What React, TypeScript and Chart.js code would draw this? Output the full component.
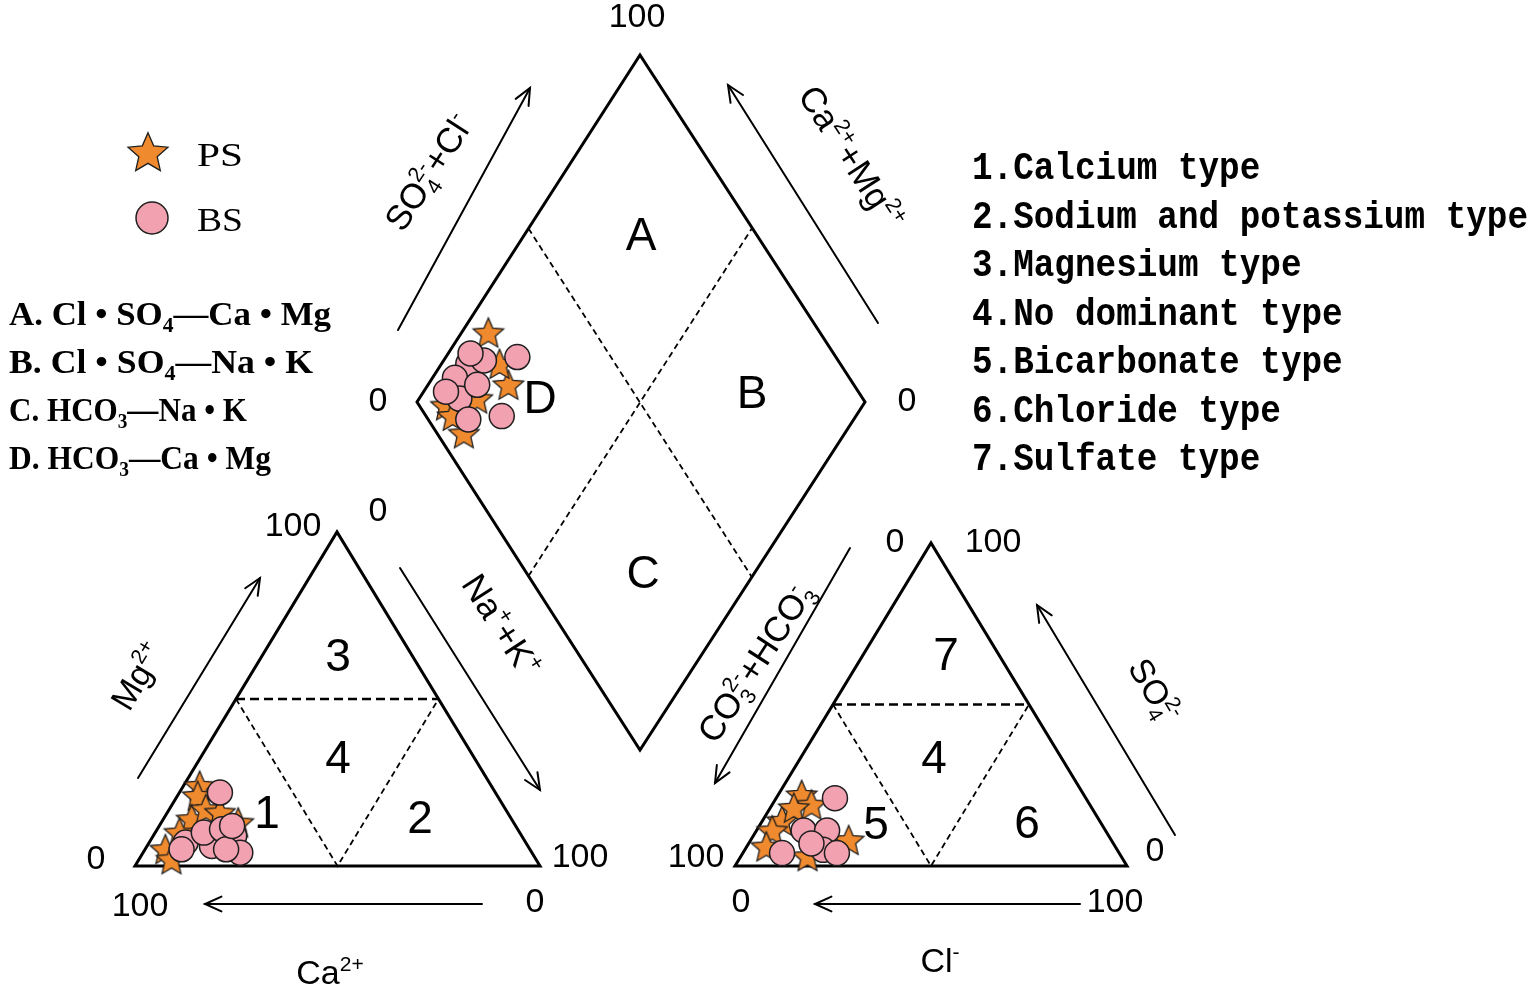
import React, { useEffect, useRef } from "react";
import { Chart, registerables } from "chart.js";

Chart.register(...registerables);

const W = 1535;
const H = 991;

// ---------------- data (meq %) ----------------
// Cation triangle: Ca2+, Mg2+, Na+ + K+
const psCa = [72, 74, 79, 74, 90, 90, 68, 71, 84];
const psMg = [24, 21, 14, 17, 5, 2, 13, 16, 10];
const psNaK = [4, 5, 7, 9, 5, 8, 19, 13, 6];
const bsCa = [68, 84, 78, 71, 72, 78, 73, 75, 86, 70];
const bsMg = [22, 7, 6, 9, 4, 10, 11, 5, 5, 12];
const bsNaK = [10, 9, 16, 20, 24, 12, 16, 20, 9, 18];

// Anion triangle: CO3 2- + HCO3-, SO4 2-, Cl-
const psHCO3 = [72, 71, 81, 85, 76, 67, 89, 80];
const psSO4 = [22, 19, 14, 11, 18, 8, 6, 3];
const psCl = [6, 10, 5, 4, 6, 25, 5, 17];
const bsHCO3 = [64, 77, 71, 86, 75, 72, 77];
const bsSO4 = [21, 11, 11, 4, 5, 4, 7];
const bsCl = [15, 12, 18, 10, 20, 24, 16];

// Diamond: SO4 2- + Cl-, Na+ + K+
const psDiaSO4Cl = [26, 23, 6, 6, 24, 14, 6];
const psDiaNaK = [6, 18, 7, 15, 13, 13, 10];
const bsDiaSO4Cl = [29, 17, 12, 10, 9, 17, 21, 19, 8, 16];
const bsDiaNaK = [16, 6, 5, 9, 14, 21, 9, 5, 5, 11];

const legendRight = [
  "1.Calcium type",
  "2.Sodium and potassium type",
  "3.Magnesium type",
  "4.No dominant type",
  "5.Bicarbonate type",
  "6.Chloride type",
  "7.Sulfate type",
];

// ---------------- layout ----------------
type P = [number, number];
const CAT_CA: P = [135, 866];
const CAT_NAK: P = [540, 866];
const CAT_MG: P = [337, 532];
const AN_HCO3: P = [735, 866];
const AN_CL: P = [1127, 866];
const AN_SO4: P = [931, 543];
const DIA_L: P = [417, 402];
const DIA_T: P = [640, 55];
const DIA_R: P = [865, 402];
const DIA_B: P = [640, 750];

const STAR_FILL = "#F08A2E";
const CIRCLE_FILL = "#F2A1B1";
const MARK_STROKE = "#1e1e1e";

const tern = (a: P, b: P, c: P, wa: number, wb: number, wc: number) => {
  const s = wa + wb + wc;
  return {
    x: (a[0] * wa + b[0] * wb + c[0] * wc) / s,
    y: (a[1] * wa + b[1] * wb + c[1] * wc) / s,
  };
};
const cat = (ca: number, mg: number, nak: number) => tern(CAT_CA, CAT_MG, CAT_NAK, ca, mg, nak);
const an = (hco3: number, so4: number, cl: number) => tern(AN_HCO3, AN_SO4, AN_CL, hco3, so4, cl);
const dia = (u: number, v: number) => ({
  x: DIA_L[0] + (u / 100) * (DIA_T[0] - DIA_L[0]) + (v / 100) * (DIA_B[0] - DIA_L[0]),
  y: DIA_L[1] + (u / 100) * (DIA_T[1] - DIA_L[1]) + (v / 100) * (DIA_B[1] - DIA_L[1]),
});
const pt = (p: P) => ({ x: p[0], y: p[1] });

function makeStar(r: number): HTMLCanvasElement {
  const pad = 2;
  const size = Math.ceil(2 * (r + pad));
  const c = document.createElement("canvas");
  c.width = size;
  c.height = size;
  const g = c.getContext("2d")!;
  const cx = size / 2;
  const cy = size / 2 + r * 0.08;
  const ri = r * 0.46;
  g.beginPath();
  for (let i = 0; i < 10; i++) {
    const rr = i % 2 ? ri : r;
    const a = -Math.PI / 2 + (i * Math.PI) / 5;
    g.lineTo(cx + rr * Math.cos(a), cy + rr * Math.sin(a));
  }
  g.closePath();
  g.fillStyle = STAR_FILL;
  g.fill();
  g.lineWidth = 1.3;
  g.strokeStyle = MARK_STROKE;
  g.lineJoin = "miter";
  g.stroke();
  return c;
}

type Seg = { t: string; sub?: string; sup?: string };

function segW(ctx: CanvasRenderingContext2D, s: Seg, size: number, fam: string, wt: string) {
  ctx.font = `${wt} ${size}px ${fam}`;
  const w = ctx.measureText(s.t).width;
  ctx.font = `${wt} ${size * 0.62}px ${fam}`;
  const ws = s.sub ? ctx.measureText(s.sub).width : 0;
  const wp = s.sup ? ctx.measureText(s.sup).width : 0;
  return w + Math.max(ws, wp);
}

function drawRich(
  ctx: CanvasRenderingContext2D,
  segs: Seg[],
  x: number,
  y: number,
  size: number,
  fam: string,
  wt: string,
  align: "left" | "center",
  fitWidth?: number
) {
  const total = segs.reduce((a, s) => a + segW(ctx, s, size, fam, wt), 0);
  ctx.save();
  ctx.translate(x, y);
  const sx = fitWidth ? fitWidth / total : 1;
  ctx.scale(sx, 1);
  ctx.textBaseline = "alphabetic";
  ctx.textAlign = "left";
  ctx.fillStyle = "#000";
  let cx = align === "center" ? -total / 2 : 0;
  for (const s of segs) {
    ctx.font = `${wt} ${size}px ${fam}`;
    ctx.fillText(s.t, cx, 0);
    cx += ctx.measureText(s.t).width;
    ctx.font = `${wt} ${size * 0.62}px ${fam}`;
    let extra = 0;
    if (s.sub) {
      ctx.fillText(s.sub, cx, size * 0.22);
      extra = Math.max(extra, ctx.measureText(s.sub).width);
    }
    if (s.sup) {
      ctx.fillText(s.sup, cx, -size * 0.4);
      extra = Math.max(extra, ctx.measureText(s.sup).width);
    }
    cx += extra;
  }
  ctx.restore();
}

const SANS = "'Liberation Sans', Arial, sans-serif";
const SERIF = "'Liberation Serif', 'Times New Roman', serif";
const MONO = "'Liberation Mono', 'Courier New', monospace";

// rotated axis labels: centre, angle (deg), segments
const rotLabels: { c: P; a: number; segs: Seg[]; size: number }[] = [
  { c: [428, 172], a: -57, size: 35, segs: [{ t: "SO", sub: "4", sup: "2-" }, { t: "+Cl", sup: "-" }] },
  { c: [852, 157], a: 57, size: 35, segs: [{ t: "Ca", sup: "2+" }, { t: "+Mg", sup: "2+" }] },
  { c: [502, 625], a: 57, size: 35, segs: [{ t: "Na", sup: "+" }, { t: "+K", sup: "+" }] },
  { c: [755, 662], a: -57, size: 35, segs: [{ t: "CO", sub: "3", sup: "2-" }, { t: "+HCO", sub: "3", sup: "-" }] },
  { c: [137, 676], a: -59, size: 34, segs: [{ t: "Mg", sup: "2+" }] },
  { c: [1155, 690], a: 59, size: 34, segs: [{ t: "SO", sub: "4", sup: "2-" }] },
  { c: [330, 972], a: 0, size: 34, segs: [{ t: "Ca", sup: "2+" }] },
  { c: [940, 960], a: 0, size: 34, segs: [{ t: "Cl", sup: "-" }] },
];

const numLabels: { c: P; t: string }[] = [
  { c: [637, 18], t: "100" },
  { c: [378, 402], t: "0" },
  { c: [907, 402], t: "0" },
  { c: [378, 512], t: "0" },
  { c: [293, 527], t: "100" },
  { c: [96, 860], t: "0" },
  { c: [140, 907], t: "100" },
  { c: [580, 858], t: "100" },
  { c: [535, 903], t: "0" },
  { c: [895, 543], t: "0" },
  { c: [993, 543], t: "100" },
  { c: [696, 858], t: "100" },
  { c: [741, 903], t: "0" },
  { c: [1155, 852], t: "0" },
  { c: [1115, 903], t: "100" },
];

const regionLabels: { c: P; t: string }[] = [
  { c: [641, 237], t: "A" },
  { c: [752, 395], t: "B" },
  { c: [643, 575], t: "C" },
  { c: [540, 400], t: "D" },
  { c: [338, 658], t: "3" },
  { c: [338, 760], t: "4" },
  { c: [267, 815], t: "1" },
  { c: [420, 820], t: "2" },
  { c: [946, 657], t: "7" },
  { c: [934, 760], t: "4" },
  { c: [876, 826], t: "5" },
  { c: [1027, 825], t: "6" },
];

const arrows: { a: P; b: P }[] = [
  { a: [398, 330], b: [530, 88] },
  { a: [878, 323], b: [728, 85] },
  { a: [400, 568], b: [540, 790] },
  { a: [850, 548], b: [715, 783] },
  { a: [138, 778], b: [260, 578] },
  { a: [1175, 835], b: [1037, 605] },
  { a: [482, 904], b: [205, 904] },
  { a: [1080, 904], b: [815, 904] },
];

const legendLeft: Seg[][] = [
  [{ t: "A. Cl • SO", sub: "4" }, { t: "—Ca • Mg" }],
  [{ t: "B. Cl • SO", sub: "4" }, { t: "—Na • K" }],
  [{ t: "C. HCO", sub: "3" }, { t: "—Na • K" }],
  [{ t: "D. HCO", sub: "3" }, { t: "—Ca • Mg" }],
];
const legendLeftFit = [322, 304, 238, 262];

export default function App() {
  const ref = useRef<HTMLCanvasElement>(null);

  useEffect(() => {
    const star = makeStar(16);
    const legendStar = makeStar(21);

    const psPts = [
      ...psCa.map((v, i) => cat(v, psMg[i], psNaK[i])),
      ...psHCO3.map((v, i) => an(v, psSO4[i], psCl[i])),
      ...psDiaSO4Cl.map((v, i) => dia(v, psDiaNaK[i])),
    ];
    const bsPts = [
      ...bsCa.map((v, i) => cat(v, bsMg[i], bsNaK[i])),
      ...bsHCO3.map((v, i) => an(v, bsSO4[i], bsCl[i])),
      ...bsDiaSO4Cl.map((v, i) => dia(v, bsDiaNaK[i])),
    ];

    const line = (data: { x: number; y: number }[], w: number, dash: number[] = []) => ({
      data,
      showLine: true,
      borderColor: "#000",
      borderWidth: w,
      borderDash: dash,
      pointRadius: 0,
      fill: false,
      tension: 0,
      order: 5,
      clip: false as const,
      borderJoinStyle: "miter" as const,
    });

    const cm1 = cat(50, 50, 0);
    const cm2 = cat(0, 50, 50);
    const cm3 = cat(50, 0, 50);
    const am1 = an(50, 50, 0);
    const am2 = an(0, 50, 50);
    const am3 = an(50, 0, 50);

    const datasets: any[] = [
      {
        label: "BS",
        data: bsPts,
        pointStyle: "circle",
        pointRadius: 12.5,
        backgroundColor: CIRCLE_FILL,
        borderColor: MARK_STROKE,
        borderWidth: 1.5,
        showLine: false,
        order: 0,
        clip: false,
      },
      {
        label: "PS",
        data: psPts,
        pointStyle: star,
        pointRadius: 16,
        showLine: false,
        order: 1,
        clip: false,
      },
      line([pt(CAT_CA), pt(CAT_MG), pt(CAT_NAK), pt(CAT_CA), pt(CAT_MG)], 3),
      line([pt(AN_HCO3), pt(AN_SO4), pt(AN_CL), pt(AN_HCO3), pt(AN_SO4)], 3),
      line([pt(DIA_L), pt(DIA_T), pt(DIA_R), pt(DIA_B), pt(DIA_L), pt(DIA_T)], 3),
      line([cm1, cm2], 2.5, [9, 5]),
      line([cm1, cm3, cm2], 1.8, [6, 4]),
      line([am1, am2], 2.5, [9, 5]),
      line([am1, am3, am2], 1.8, [6, 4]),
      line([dia(50, 0), dia(50, 100)], 1.8, [6, 4]),
      line([dia(0, 50), dia(100, 50)], 1.8, [6, 4]),
    ];

    const decor = {
      id: "decor",
      afterDatasetsDraw(chart: any) {
        const ctx: CanvasRenderingContext2D = chart.ctx;
        const xs = chart.scales.x;
        const ys = chart.scales.y;
        const X = (v: number) => xs.getPixelForValue(v);
        const Y = (v: number) => ys.getPixelForValue(v);
        ctx.save();

        // arrows
        ctx.strokeStyle = "#000";
        ctx.lineWidth = 2;
        ctx.lineCap = "round";
        for (const ar of arrows) {
          const ax = X(ar.a[0]), ay = Y(ar.a[1]), bx = X(ar.b[0]), by = Y(ar.b[1]);
          ctx.beginPath();
          ctx.moveTo(ax, ay);
          ctx.lineTo(bx, by);
          ctx.stroke();
          const ang = Math.atan2(by - ay, bx - ax);
          const L = 18, sp = 0.42;
          ctx.beginPath();
          ctx.moveTo(bx - L * Math.cos(ang - sp), by - L * Math.sin(ang - sp));
          ctx.lineTo(bx, by);
          ctx.lineTo(bx - L * Math.cos(ang + sp), by - L * Math.sin(ang + sp));
          ctx.stroke();
        }

        // numbers
        ctx.fillStyle = "#000";
        ctx.textAlign = "center";
        ctx.textBaseline = "middle";
        ctx.font = `34px ${SANS}`;
        for (const n of numLabels) ctx.fillText(n.t, X(n.c[0]), Y(n.c[1]));

        // region labels
        ctx.font = `46px ${SANS}`;
        for (const r of regionLabels) ctx.fillText(r.t, X(r.c[0]), Y(r.c[1]));

        // rotated labels
        for (const l of rotLabels) {
          ctx.save();
          ctx.translate(X(l.c[0]), Y(l.c[1]));
          ctx.rotate((l.a * Math.PI) / 180);
          drawRich(ctx, l.segs, 0, l.size * 0.36, l.size, SANS, "normal", "center");
          ctx.restore();
        }

        // legend markers
        ctx.drawImage(legendStar, X(148) - legendStar.width / 2, Y(152) - legendStar.height / 2);
        ctx.beginPath();
        ctx.arc(X(152), Y(218), 16, 0, Math.PI * 2);
        ctx.fillStyle = CIRCLE_FILL;
        ctx.fill();
        ctx.lineWidth = 1.5;
        ctx.strokeStyle = MARK_STROKE;
        ctx.stroke();
        drawRich(ctx, [{ t: "PS" }], X(197), Y(166), 33, SERIF, "normal", "left", 46);
        drawRich(ctx, [{ t: "BS" }], X(197), Y(231), 33, SERIF, "normal", "left", 46);

        // left legend
        legendLeft.forEach((segs, i) => {
          drawRich(ctx, segs, X(9), Y(325 + i * 48), 33, SERIF, "bold", "left", legendLeftFit[i]);
        });

        // right legend (monospace, fitted to widths)
        ctx.font = `bold 38px ${MONO}`;
        const refW = ctx.measureText(legendRight[1]).width;
        const sx = 556 / refW;
        legendRight.forEach((t, i) => {
          ctx.font = `bold 38px ${MONO}`;
          const w = ctx.measureText(t).width;
          drawRich(ctx, [{ t }], X(972), Y(179 + i * 48.5), 38, MONO, "bold", "left", w * sx);
        });

        ctx.restore();
      },
    };

    const chart = new Chart(ref.current!, {
      type: "scatter",
      data: { datasets },
      options: {
        animation: false,
        responsive: true,
        maintainAspectRatio: false,
        events: [],
        layout: { padding: 0, autoPadding: false },
        plugins: { legend: { display: false }, tooltip: { enabled: false } },
        scales: {
          x: { type: "linear", min: 0, max: W, display: false },
          y: { type: "linear", min: 0, max: H, reverse: true, display: false },
        },
      },
      plugins: [decor],
    });
    return () => chart.destroy();
  }, []);

  return (
    <div style={{ position: "fixed", left: 0, top: 0, width: W, height: H, background: "#fff" }}>
      <canvas ref={ref} />
    </div>
  );
}
